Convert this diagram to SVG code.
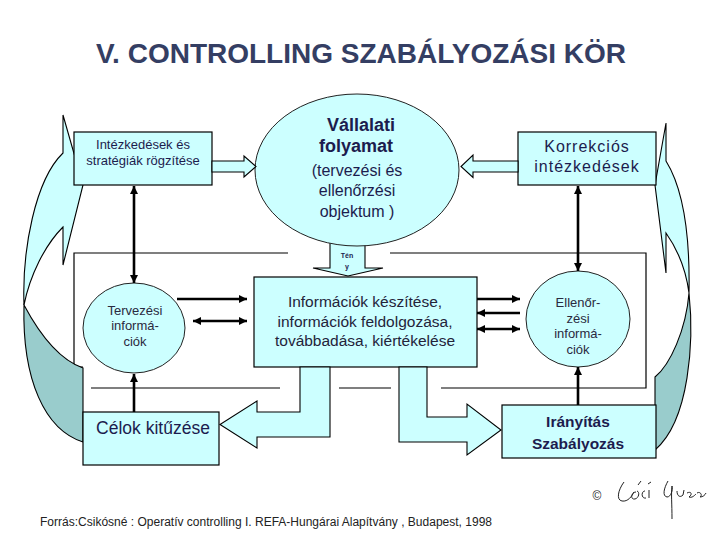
<svg xmlns="http://www.w3.org/2000/svg" width="720" height="540" viewBox="0 0 720 540">
<defs>
<style>
text{font-family:"Liberation Sans",Arial,sans-serif;fill:#1c1c4e;text-anchor:middle}
.box{fill:#ccffff;stroke:#000;stroke-width:1.2}
.ell{fill:#ccffff;stroke:#222;stroke-width:1}
.blk{fill:#ccffff;stroke:#000;stroke-width:1.1;stroke-linejoin:miter}
.teal{fill:#99cccc;stroke:#000;stroke-width:1.1}
.frame{stroke:#000;stroke-width:1.2;fill:none}
.ln{stroke:#000;stroke-width:2.6;fill:none}
</style>
<marker id="ah" viewBox="0 0 10 10" refX="10" refY="5" markerWidth="9" markerHeight="8" markerUnits="userSpaceOnUse" orient="auto-start-reverse">
<path d="M0,0 L10,5 L0,10 z" fill="#000"/>
</marker>
</defs>
<rect width="720" height="540" fill="#fff"/>

<text x="361" y="63" style="font-size:28px;font-weight:bold;fill:#343e63">V. CONTROLLING SZABÁLYOZÁSI KÖR</text>

<g id="frame">
<path class="frame" d="M83,367 L74,367 L74,253 L288,253 M390,253 L646,253 L646,388 L441,388 M391,388 L339,388 M280,388 L91,388"/>
</g>

<g id="left-curved-arrow">
<path class="teal" d="M24,305 C40,335 60,360 83,368 L83,442 C45,430 22,380 24,305 Z"/>
<path class="blk" d="M63,115 L83,185 L63,265 L63,227 C45,245 30,275 24,305 C22,250 35,180 63,153 Z"/>
</g>

<g id="right-curved-arrow">
<path class="teal" d="M689,293 C694,340 690,420 655,450 L655,377 C670,365 686,330 689,293 Z"/>
<path class="blk" d="M666,123 L655,185 L666,273 L666,233 C678,250 686,270 689,293 C690,240 684,190 666,161 Z"/>
</g>

<g id="teny-arrow">
<path class="blk" d="M330,238 L330,268 L313,268 L348,276 L383,268 L365,268 L365,238 Z"/>
<text x="347" y="258" style="font-size:7px;font-weight:bold">Tén</text>
<text x="347" y="268.5" style="font-size:7px;font-weight:bold">y</text>
</g>

<g id="n-intezkedesek">
<rect class="box" x="74" y="132" width="138" height="53"/>
<text x="143" y="149" style="font-size:13px">Intézkedések és</text>
<text x="143" y="165" style="font-size:13px">stratégiák rögzítése</text>
</g>

<g id="n-vallalati">
<ellipse class="ell" cx="357" cy="170" rx="102" ry="76"/>
<text x="361" y="131" style="font-size:18px;font-weight:bold">Vállalati</text>
<text x="356" y="152" style="font-size:18px;font-weight:bold">folyamat</text>
<text x="357" y="175.5" style="font-size:16px">(tervezési és</text>
<text x="357" y="195.5" style="font-size:16px">ellenőrzési</text>
<text x="357" y="217" style="font-size:16px">objektum )</text>
</g>

<g id="n-korrekcios">
<rect class="box" x="518" y="132" width="138" height="53"/>
<text x="587" y="152" style="font-size:16px;letter-spacing:1px">Korrekciós</text>
<text x="587" y="171.5" style="font-size:16px;letter-spacing:1px">intézkedések</text>
</g>

<g id="n-tervezesi">
<ellipse class="ell" cx="134" cy="328" rx="51" ry="45"/>
<text x="135" y="314.5" style="font-size:13px;fill:#2a2a40">Tervezési</text>
<text x="135" y="330" style="font-size:13px;fill:#2a2a40">informá-</text>
<text x="135" y="345.5" style="font-size:13px;fill:#2a2a40">ciók</text>
</g>

<g id="n-informaciok">
<rect class="box" x="254" y="277" width="223" height="90"/>
<text x="365" y="307" style="font-size:15.5px;fill:#23233a">Információk készítése,</text>
<text x="365" y="326.5" style="font-size:15.5px;fill:#23233a">információk feldolgozása,</text>
<text x="365" y="345.5" style="font-size:15.5px;fill:#23233a">továbbadása, kiértékelése</text>
</g>

<g id="n-ellenorzesi">
<ellipse class="ell" cx="578" cy="319" rx="52" ry="48"/>
<text x="578" y="307" style="font-size:13px;fill:#2a2a40">Ellenőr-</text>
<text x="578" y="322.5" style="font-size:13px;fill:#2a2a40">zési</text>
<text x="578" y="337.5" style="font-size:13px;fill:#2a2a40">informá-</text>
<text x="578" y="353.5" style="font-size:13px;fill:#2a2a40">ciók</text>
</g>

<g id="n-celok">
<rect class="box" x="83" y="412" width="136" height="53"/>
<text x="153" y="434" style="font-size:17.5px">Célok kitűzése</text>
</g>

<g id="n-iranyitas">
<rect class="box" x="502" y="405" width="154" height="53"/>
<text x="578" y="427" style="font-size:15.5px;font-weight:bold">Irányítás</text>
<text x="578" y="449" style="font-size:15.5px;font-weight:bold">Szabályozás</text>
</g>

<g id="connectors">
<path class="blk" d="M212,161 L244,161 L244,156 L256,166.5 L244,177 L244,172 L212,172 Z"/>
<path class="blk" d="M518,161 L473,161 L473,155 L461,166.5 L473,177.5 L473,172 L518,172 Z"/>
<path class="blk" d="M300,367 L330,367 L330,437 L257,437 L257,448 L220,424.5 L257,401 L257,412 L300,412 Z"/>
<path class="blk" d="M399,367 L427,367 L427,417 L467,417 L467,404 L501,430 L467,455 L467,442 L399,442 Z"/>
<line class="ln" x1="134" y1="186" x2="134" y2="283" marker-start="url(#ah)" marker-end="url(#ah)"/>
<line class="ln" x1="578" y1="186" x2="578" y2="271" marker-start="url(#ah)" marker-end="url(#ah)"/>
<line class="ln" x1="134" y1="412" x2="134" y2="374" marker-end="url(#ah)"/>
<line class="ln" x1="578" y1="405" x2="578" y2="367" marker-end="url(#ah)"/>
<line class="ln" x1="177" y1="299" x2="247" y2="299" marker-end="url(#ah)"/>
<line class="ln" x1="193" y1="321" x2="247" y2="321" marker-start="url(#ah)" marker-end="url(#ah)"/>
<line class="ln" x1="477" y1="299" x2="520" y2="299" marker-end="url(#ah)"/>
<line class="ln" x1="520" y1="313" x2="477" y2="313" marker-end="url(#ah)"/>
<line class="ln" x1="477" y1="329" x2="520" y2="329" marker-start="url(#ah)" marker-end="url(#ah)"/>
</g>

<text x="266" y="526" textLength="452" lengthAdjust="spacingAndGlyphs" style="font-size:12px;fill:#222">Forrás:Csikósné : Operatív controlling  I. REFA-Hungárai Alapítvány , Budapest, 1998</text>

<g id="signature">
<text x="597" y="500" style="font-size:12px;fill:#222">©</text>
<path d="M624,482 C618,490 616,500 622,501 C628,502 632,496 634,492 M636,492 C631,492 630,500 635,499 C639,498 640,492 637,491 M638,485 L641,481 M645,491 C641,491 641,499 646,498 M649,490 L649,498 M648,484 L651,482 M668,481 C664,488 662,496 667,497 C671,497 673,490 672,486 C671,494 672,504 672,519 M677,491 C677,496 680,498 683,495 L684,490 M687,493 C691,491 693,494 689,497 C692,498 694,496 696,494 M697,493 C700,491 703,495 700,497 C703,497 705,495 706,493" fill="none" stroke="#222" stroke-width="1"/>
</g>
</svg>
